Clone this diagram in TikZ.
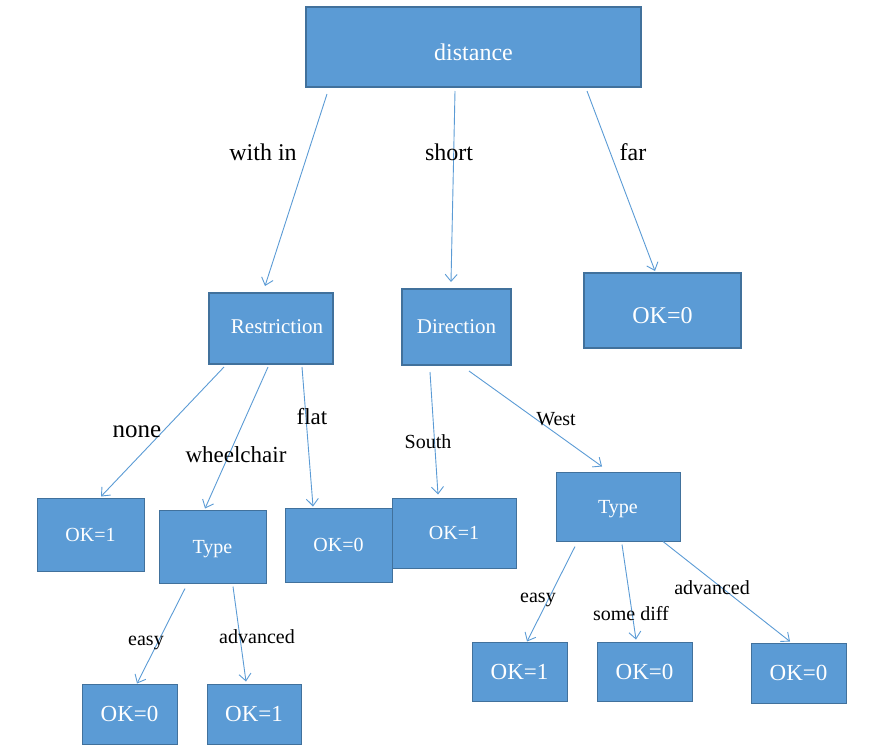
\documentclass[tikz,border=0pt]{standalone}
\usepackage{fontspec}
\setmainfont{Liberation Serif}
\usetikzlibrary{arrows.meta,calc}
\definecolor{boxfill}{HTML}{5B9BD5}
\definecolor{boxline}{HTML}{41719C}
\colorlet{linkcol}{boxfill}
\newcommand{\fsz}[1]{\fontsize{#1}{#1}\selectfont}
\tikzset{
  box/.style={draw=boxline, fill=boxfill, text=white, inner sep=0pt, text depth=0pt, line width=1pt},
  topbox/.style={box, line width=2pt},
  link/.style={linkcol, line width=0.9pt, -{Straight Barb[length=7pt,width=12pt]}},
  lab/.style={inner sep=0pt, text=black}
}

\begin{document}
\begin{tikzpicture}[x=1pt,y=-1pt]
    \useasboundingbox (0,0) rectangle (870,750);

    % top level
    \node [topbox, minimum width=335pt, minimum height=80pt, text height=26pt, font=\fsz{24}] (dist) at (473.5,47) {distance};

    % second level
    \node [topbox, minimum width=124pt, minimum height=71pt, text height=9pt, font=\fsz{21}] (restr) at (271,328.5) {\hspace*{12pt}Restriction};
    \node [topbox, minimum width=109pt, minimum height=76pt, font=\fsz{21}] (dir) at (456.5,327) {Direction};
    \node [topbox, minimum width=157pt, minimum height=75pt, text height=26pt, font=\fsz{24}] (far) at (662.5,310.5) {OK=0};

    % third level
    \node [box, minimum width=107pt, minimum height=73pt, font=\fsz{20}] (okA) at (90.5,534.5) {OK=1};
    \node [box, minimum width=107pt, minimum height=73pt, font=\fsz{20}] (typeA) at (212.5,546.5) {Type};
    \node [box, minimum width=107pt, minimum height=74pt, font=\fsz{20}] (okB) at (338.5,545) {OK=0};
    \node [box, minimum width=124pt, minimum height=70pt, font=\fsz{20}] (okC) at (454,533) {OK=1};
    \node [box, minimum width=124pt, minimum height=69pt, font=\fsz{20}] (typeB) at (618,506.5) {Type};

    % leaves
    \node [box, minimum width=95pt, minimum height=60pt, font=\fsz{23}] (okD) at (129.5,714) {OK=0};
    \node [box, minimum width=94pt, minimum height=60pt, font=\fsz{23}] (okE) at (254,714) {OK=1};
    \node [box, minimum width=95pt, minimum height=59pt, font=\fsz{23}] (okF) at (519.5,671.5) {OK=1};
    \node [box, minimum width=95pt, minimum height=59pt, font=\fsz{23}] (okG) at (644.5,671.5) {OK=0};
    \node [box, minimum width=95pt, minimum height=60pt, font=\fsz{23}] (okH) at (798.5,673) {OK=0};

    % links
    \draw [link] ($(dist.south)+(-146.5,6)$) -- ($(restr.north)+(-6,-6)$);
    \draw [link] ($(dist.south)+(-18.5,3)$) -- ($(dir.north)+(-5.5,-6)$);
    \draw [link] ($(dist.south)+(113.5,3)$) -- ($(far.north)+(-7.5,-1)$);
    \draw [link] ($(restr.south)+(-47,2)$) -- ($(okA.north)+(10.5,-1)$);
    \draw [link] ($(restr.south)+(-3,2)$) -- ($(typeA.north)+(-7.5,-1)$);
    \draw [link] ($(restr.south)+(31,2)$) -- ($(okB.north)+(-25.5,-1)$);
    \draw [link] ($(dir.south)+(-26.5,6)$) -- ($(okC.north)+(-16,-3)$);
    \draw [link] ($(dir.south)+(12.5,5)$) -- ($(typeB.north)+(-16,-5)$);
    \draw [link] ($(typeA.south)+(-27.5,5)$) -- ($(okD.north)+(7.5,0)$);
    \draw [link] ($(typeA.south)+(20.5,3)$) -- ($(okE.north)+(-8,-2)$);
    \draw [link] ($(typeB.south)+(-43,5)$) -- ($(okF.north)+(7.5,0)$);
    \draw [link] ($(typeB.south)+(4,3)$) -- ($(okG.north)+(-8.5,-2)$);
    \draw [link] ($(typeB.south)+(45,0)$) -- ($(okH.north)+(-8.5,-1)$);

    % labels
    \node [lab, font=\fsz{24}] (lwithin) at (263,152) {with in};
    \node [lab, font=\fsz{24}] (lshort) at (449,152) {short};
    \node [lab, font=\fsz{24}] (lfar) at (633,152) {far};
    \node [lab, font=\fsz{25}] (lnone) at (137,432) {none};
    \node [lab, font=\fsz{23}] (lwheel) at (236,455) {wheelchair};
    \node [lab, font=\fsz{23}] (lflat) at (312,417) {flat};
    \node [lab, font=\fsz{20}] (lsouth) at (428,442) {South};
    \node [lab, font=\fsz{20}] (lwest) at (556,419) {West};
    \node [lab, font=\fsz{20}] (leasyA) at (146,643) {easy};
    \node [lab, font=\fsz{20}] (ladvA) at (257,637) {advanced};
    \node [lab, font=\fsz{20}] (leasyB) at (538,600) {easy};
    \node [lab, font=\fsz{20}] (lsome) at (631,614) {some diff};
    \node [lab, font=\fsz{20}] (ladvB) at (712,588) {advanced};
\end{tikzpicture}
\end{document}
